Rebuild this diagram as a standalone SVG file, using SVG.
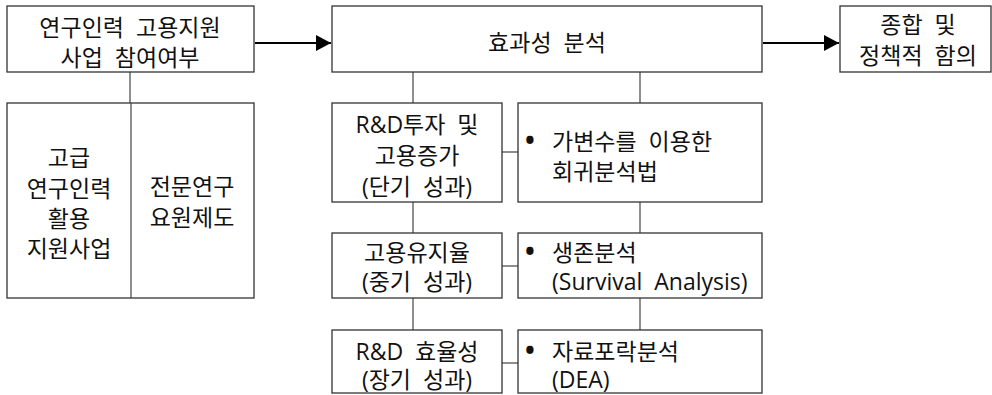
<svg xmlns="http://www.w3.org/2000/svg" width="992" height="395" viewBox="0 0 992 395">
<style>
.box{fill:#fff;stroke:#333;stroke-width:1.3}
.ln{stroke:#444;stroke-width:1.2;fill:none}
.ar{stroke:#000;stroke-width:2.2;fill:none}
text{font-family:"Open Sans","Noto Sans CJK KR",sans-serif;font-size:23px;word-spacing:6px;fill:#111}
.c{text-anchor:middle}
.b{font-size:26px;font-weight:bold}
</style>
<defs>
<marker id="ah" markerWidth="16" markerHeight="16" refX="15" refY="8" orient="auto" markerUnits="userSpaceOnUse">
<path d="M0,0 L15,8 L0,16 Z" fill="#000"/>
</marker>
</defs>
<g id="connectors">
<line class="ar" x1="255" y1="43" x2="331" y2="43" marker-end="url(#ah)"/>
<line class="ar" x1="763" y1="43" x2="839" y2="43" marker-end="url(#ah)"/>
<line class="ln" x1="130" y1="72" x2="130" y2="103"/>
<line class="ln" x1="413" y1="72" x2="413" y2="103"/>
<line class="ln" x1="640" y1="72" x2="640" y2="103"/>
<line class="ln" x1="413" y1="202" x2="413" y2="233"/>
<line class="ln" x1="640" y1="202" x2="640" y2="233"/>
<line class="ln" x1="413" y1="298" x2="413" y2="330"/>
<line class="ln" x1="640" y1="298" x2="640" y2="330"/>
<line class="ln" x1="502" y1="152" x2="518" y2="152"/>
<line class="ln" x1="502" y1="266" x2="518" y2="266"/>
<line class="ln" x1="502" y1="363" x2="518" y2="363"/>
</g>
<g id="n-participation">
<rect class="box" x="7" y="6" width="247" height="66"/>
<text class="c" x="130" y="36">연구인력 고용지원</text>
<text class="c" x="130" y="66">사업 참여여부</text>
</g>
<g id="n-effect">
<rect class="box" x="332" y="6" width="430" height="66"/>
<text class="c" x="547" y="51">효과성 분석</text>
</g>
<g id="n-policy">
<rect class="box" x="840" y="6" width="151" height="66"/>
<text class="c" x="918" y="33">종합 및</text>
<text class="c" x="918" y="64">정책적 함의</text>
</g>
<g id="n-programs">
<rect class="box" x="7" y="103" width="247" height="195"/>
<line class="ln" x1="131" y1="103" x2="131" y2="298"/>
</g>
<g id="n-advanced">
<text class="c" x="69" y="166">고급</text>
<text class="c" x="69" y="197">연구인력</text>
<text class="c" x="69" y="227">활용</text>
<text class="c" x="69" y="257">지원사업</text>
</g>
<g id="n-specialist">
<text class="c" x="192" y="195">전문연구</text>
<text class="c" x="192" y="226">요원제도</text>
</g>
<g id="n-short">
<rect class="box" x="332" y="103" width="170" height="99"/>
<text class="c" x="417" y="133">R&amp;D투자 및</text>
<text class="c" x="417" y="164">고용증가</text>
<text class="c" x="417" y="195">(단기 성과)</text>
</g>
<g id="n-regression">
<rect class="box" x="518" y="103" width="244" height="99"/>
<text class="b" x="525" y="150">•</text>
<text x="552" y="150">가변수를 이용한</text>
<text x="552" y="180">회귀분석법</text>
</g>
<g id="n-mid">
<rect class="box" x="332" y="233" width="170" height="65"/>
<text class="c" x="417" y="261">고용유지율</text>
<text class="c" x="417" y="290">(중기 성과)</text>
</g>
<g id="n-survival">
<rect class="box" x="518" y="233" width="244" height="65"/>
<text class="b" x="525" y="261">•</text>
<text x="552" y="261">생존분석</text>
<text x="552" y="290">(Survival Analysis)</text>
</g>
<g id="n-long">
<rect class="box" x="332" y="330" width="170" height="63"/>
<text class="c" x="417" y="360">R&amp;D 효율성</text>
<text class="c" x="417" y="388">(장기 성과)</text>
</g>
<g id="n-dea">
<rect class="box" x="518" y="330" width="244" height="63"/>
<text class="b" x="525" y="360">•</text>
<text x="552" y="360">자료포락분석</text>
<text x="552" y="388">(DEA)</text>
</g>
</svg>
